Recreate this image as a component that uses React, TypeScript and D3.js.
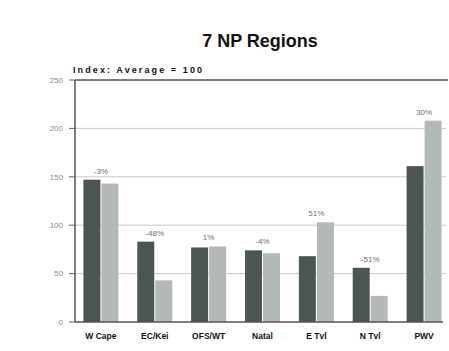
import React from "react";
import * as d3 from "d3";

const categories = ["W Cape", "EC/Kei", "OFS/WT", "Natal", "E Tvl", "N Tvl", "PWV"];
const seriesA = [147, 83, 77, 74, 68, 56, 161];
const seriesB = [143, 43, 78, 71, 103, 27, 208];
const changeLabels = ["-3%", "-48%", "1%", "-4%", "51%", "-51%", "30%"];
const yTicks = [0, 50, 100, 150, 200, 250];

const W = 449;
const H = 351;
const FONT = "'Liberation Sans', Arial, Helvetica, sans-serif";

export default function App() {
  const x = d3
    .scaleBand<string>()
    .domain(categories)
    .range([74, 451])
    .paddingInner(0.35)
    .paddingOuter(0.175);
  const inner = d3
    .scaleBand<string>()
    .domain(["a", "b"])
    .range([0, x.bandwidth()])
    .paddingInner(0.06);
  const y = d3.scaleLinear().domain([0, 250]).range([322, 80]);

  const axisX = 75;
  const rightEdge = 446;

  return (
    <svg
      width={W}
      height={H}
      style={{ position: "absolute", left: 0, top: 0, background: "#fff" }}
      fontFamily={FONT}
    >
      <rect x={0} y={0} width={W} height={H} fill="#fff" />
      <text x={260} y={47} textAnchor="middle" fontSize={18} fontWeight="bold" fill="#111">
        7 NP Regions
      </text>
      <text x={73} y={73} fontSize={9} fontWeight="bold" fill="#111" letterSpacing={2.1}>
        Index: Average = 100
      </text>

      {/* grid lines and y ticks */}
      {yTicks.map((t) => (
        <g key={t}>
          {t > 0 && (
            <line
              x1={axisX}
              x2={t === 250 ? 448 : rightEdge}
              y1={y(t)}
              y2={y(t)}
              stroke={t === 250 ? "#555" : "#c9c9c9"}
              strokeWidth={t === 250 ? 1.5 : 1}
            />
          )}
          <line x1={69} x2={axisX} y1={y(t)} y2={y(t)} stroke="#666" strokeWidth={1} />
          <text
            x={63}
            y={y(t)}
            dy="0.35em"
            textAnchor="end"
            fontSize={8}
            fill="#8a8a8a"
          >
            {t}
          </text>
        </g>
      ))}

      {/* bars */}
      {categories.map((c, i) => {
        const x0 = x(c)!;
        const xa = x0 + inner("a")!;
        const xb = x0 + inner("b")!;
        const bw = inner.bandwidth();
        const top = Math.min(y(seriesA[i]), y(seriesB[i]));
        return (
          <g key={c}>
            <rect x={xa} y={y(seriesA[i])} width={bw} height={y(0) - y(seriesA[i])} fill="#4b5652" />
            <rect x={xb} y={y(seriesB[i])} width={bw} height={y(0) - y(seriesB[i])} fill="#b3b9b5" />
            <text
              x={x0 + x.bandwidth() / 2}
              y={top - 6}
              textAnchor="middle"
              fontSize={8}
              fill="#6f6f6f"
            >
              {changeLabels[i]}
            </text>
            <text
              x={x0 + x.bandwidth() / 2}
              y={339}
              textAnchor="middle"
              fontSize={8.5}
              fontWeight="bold"
              fill="#111"
            >
              {c}
            </text>
          </g>
        );
      })}

      {/* axes */}
      <line x1={axisX} x2={axisX} y1={y(250)} y2={y(0)} stroke="#555" strokeWidth={1.5} />
      <line x1={axisX} x2={443} y1={y(0)} y2={y(0)} stroke="#555" strokeWidth={1.5} />
    </svg>
  );
}
